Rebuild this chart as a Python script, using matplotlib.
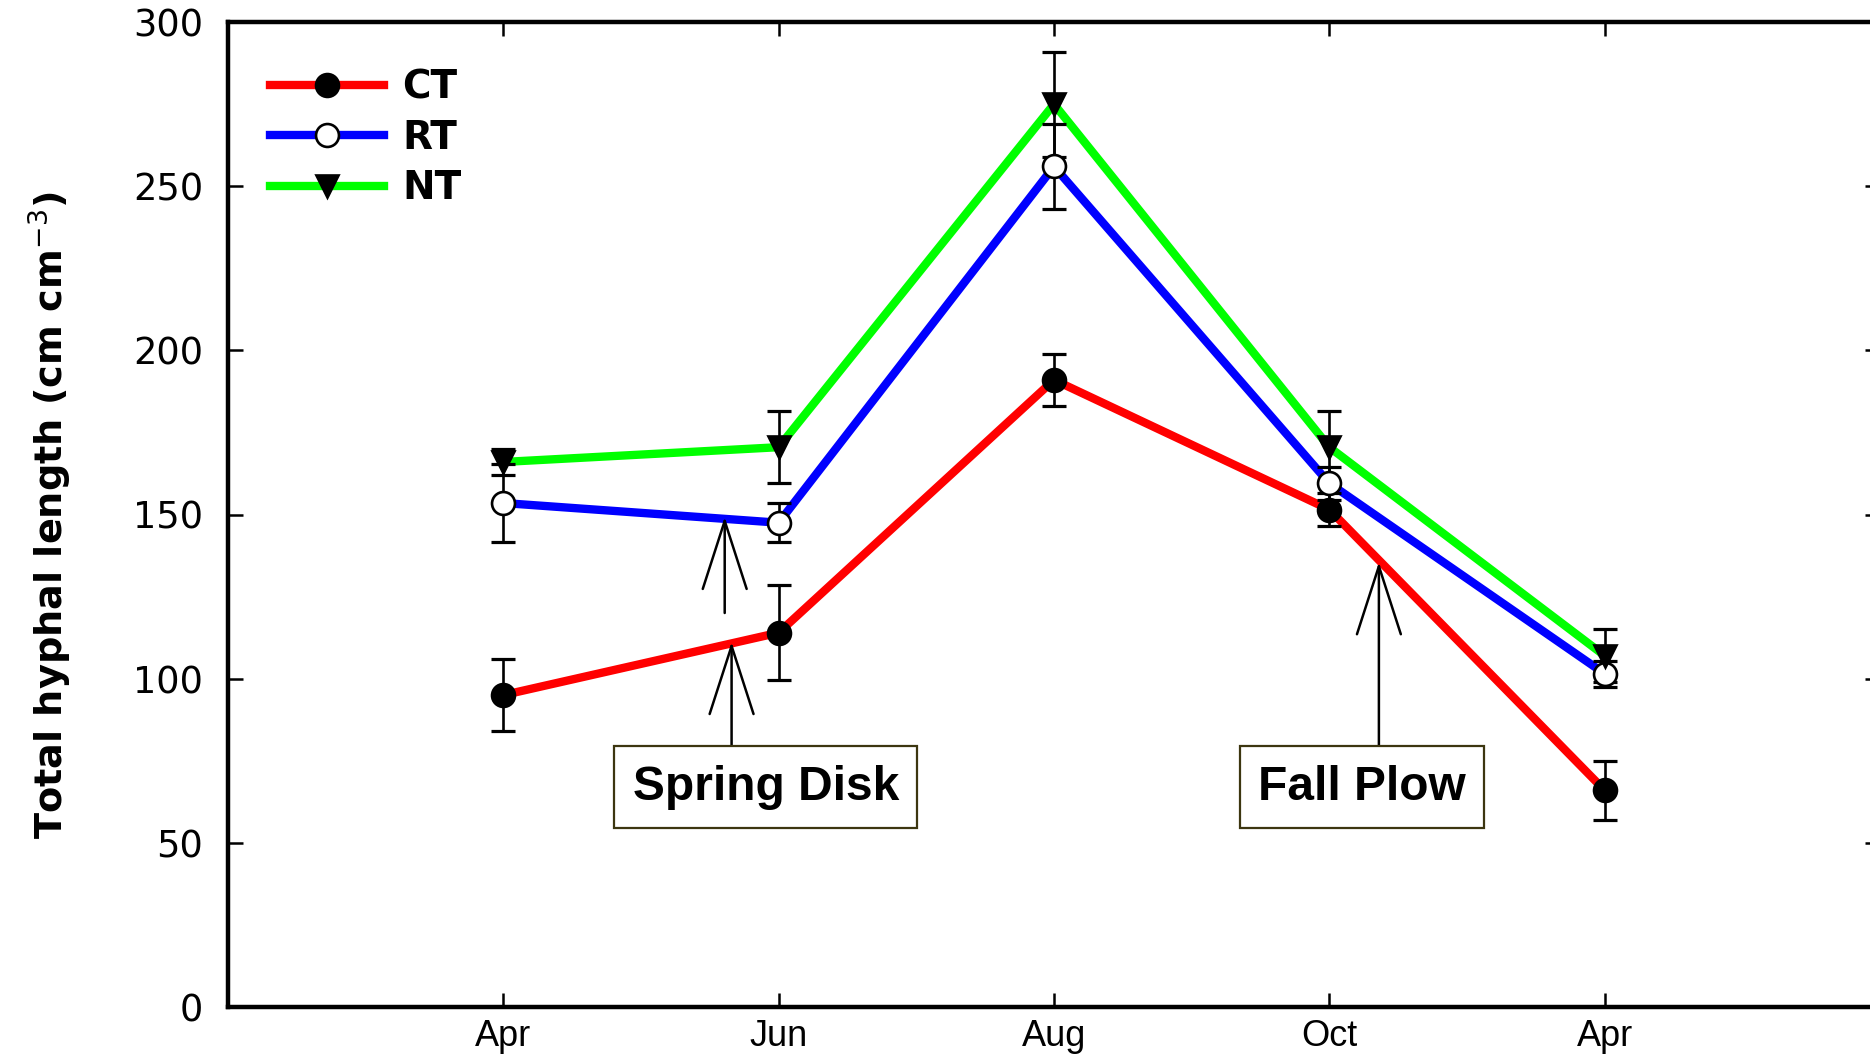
import matplotlib
matplotlib.use("Agg")
import matplotlib.pyplot as plt
from matplotlib.lines import Line2D

# Sampling dates and tick labels
months = ["Apr", "Jun", "Aug", "Oct", "Apr"]
x_pos = [1, 2, 3, 4, 5]
y_ticks = [0, 50, 100, 150, 200, 250, 300]
y_tick_labels = ["0", "50", "100", "150", "200", "250", "300"]

# Total hyphal length (cm cm^-3) by tillage system, with error bars
ct_mean = [95, 114, 191, 151.5, 66]
ct_err = [11, 14.5, 8, 5, 9]
rt_mean = [153.5, 147.5, 256, 159.5, 101.5]
rt_err = [12, 6, 13, 5, 4]
nt_mean = [166, 170.5, 275, 170.5, 107]
nt_err = [4, 11, 16, 11, 8]

fig = plt.figure(figsize=(18.7, 10.59), dpi=100)
ax = fig.add_axes([228 / 1870, 1 - 1007 / 1059, 1652 / 1870, 985 / 1059])

series = [
    ("CT", ct_mean, ct_err, "#ff0000", "o", "black"),
    ("RT", rt_mean, rt_err, "#0000ff", "o", "white"),
    ("NT", nt_mean, nt_err, "#00ff00", "v", "black"),
]

lw = 6
ms = 16.5
handles = []
for name, mean, err, color, marker, face in series:
    ax.plot(x_pos, mean, color=color, lw=lw, zorder=2, solid_capstyle="butt")
    ax.errorbar(x_pos, mean, yerr=err, fmt="none", ecolor="black",
                elinewidth=1.9, capsize=8.5, capthick=2.3, zorder=3)
    ax.plot(x_pos, mean, linestyle="none", marker=marker, ms=ms,
            markerfacecolor=face, markeredgecolor="black",
            markeredgewidth=1.9, zorder=4)
    handles.append(Line2D([], [], color=color, lw=lw, marker=marker, ms=ms,
                          markerfacecolor=face, markeredgecolor="black",
                          markeredgewidth=1.9, label=name))

ax.set_xlim(0, 6)
ax.set_ylim(0, 300)
ax.set_xticks(x_pos)
ax.set_xticklabels(months, fontfamily="Liberation Sans", fontsize=26)
ax.set_yticks(y_ticks)
ax.set_yticklabels(y_tick_labels, fontfamily="DejaVu Sans", fontsize=26.5)
ax.tick_params(axis="x", direction="in", top=True, length=10, width=1.8, pad=9)
ax.tick_params(axis="y", direction="in", right=True, length=11, width=1.8, pad=18)
for sp in ax.spines.values():
    sp.set_linewidth(3.2)

fig.text(64 / 1870, 1 - 515 / 1059, "Total hyphal length (cm cm$^{-3}$)",
         rotation=90, rotation_mode="anchor", ha="center", va="baseline",
         fontfamily="DejaVu Sans", fontweight="bold", fontsize=27.5)

leg = ax.legend(handles=handles, loc="upper left",
                bbox_to_anchor=(0.0254, 0.953), frameon=False,
                borderpad=0, borderaxespad=0, handlelength=2.92,
                handletextpad=0.49, labelspacing=0.32, numpoints=1,
                prop={"family": "DejaVu Sans", "weight": "bold", "size": 28})

# Tillage event annotations
box_style = dict(boxstyle="square,pad=0.38", facecolor="white",
                 edgecolor="#3c3610", linewidth=1.6)
ax.text(1.953, 67, "Spring Disk", ha="center", va="center",
        fontfamily="Liberation Sans", fontweight="bold", fontsize=34.5,
        bbox=box_style, zorder=6)
ax.text(4.12, 67, "Fall Plow", ha="center", va="center",
        fontfamily="Liberation Sans", fontweight="bold", fontsize=34.5,
        bbox=box_style, zorder=6)

arrow_kw = dict(arrowstyle="->,head_length=49,head_width=15.8",
                mutation_scale=1, color="black", lw=1.8,
                shrinkA=0, shrinkB=0)
ax.annotate("", xy=(1.829, 111.2), xytext=(1.829, 79.2),
            arrowprops=arrow_kw, zorder=5)
ax.annotate("", xy=(1.804, 149.3), xytext=(1.804, 120),
            arrowprops=arrow_kw, zorder=5)
ax.annotate("", xy=(4.18, 135.5), xytext=(4.18, 79.2),
            arrowprops=arrow_kw, zorder=5)

fig.savefig("out.png", dpi=100)
